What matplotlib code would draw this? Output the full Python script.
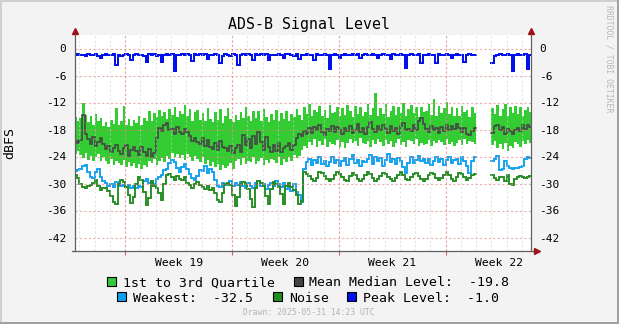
import numpy as np
import matplotlib
matplotlib.use("Agg")
import matplotlib.pyplot as plt
import matplotlib.dates as mdates
from matplotlib.patches import Rectangle
from matplotlib.lines import Line2D
from datetime import datetime, timedelta

plt.rcParams.update({
    "font.family": ["DejaVu Sans Mono", "DejaVu Sans"],
    "axes.unicode_minus": False,
})

nan = np.nan

# 4-hour samples, six per row (one row = one day), first sample 2025-05-01 16:00 UTC
t_start = datetime(2025, 5, 1, 16, 0)
step = timedelta(hours=4)

q3_rows = [
    [-15.2, -16.0, -15.4, -12.2, -14.8, -16.3],
    [-15.0, -17.0, -14.6, -16.2, -15.5, -17.2],
    [-16.4, -17.4, -15.9, -16.8, -13.2, -17.0],
    [-16.0, -12.8, -16.9, -15.6, -17.3, -15.8],
    [-16.6, -14.9, -17.0, -15.4, -16.2, -13.9],
    [-16.0, -14.4, -15.3, -13.6, -15.0, -14.2],
    [-15.6, -13.4, -14.7, -12.9, -15.2, -13.8],
    [-14.5, -12.6, -15.0, -13.5, -16.0, -14.2],
    [-13.6, -15.8, -14.4, -16.2, -13.2, -15.6],
    [-16.4, -14.0, -15.9, -13.4, -16.6, -15.0],
    [-13.3, -15.6, -16.3, -14.8, -16.0, -14.2],
    [-15.5, -13.1, -14.9, -16.1, -13.8, -15.4],
    [-14.0, -16.2, -13.5, -15.3, -16.4, -14.6],
    [-15.8, -13.6, -16.1, -14.3, -15.6, -13.9],
    [-16.0, -14.5, -15.2, -13.4, -14.8, -15.9],
    [-13.0, -14.6, -12.4, -15.1, -13.7, -14.2],
    [-12.8, -14.9, -13.6, -15.4, -12.5, -14.4],
    [-14.2, -12.9, -15.0, -13.3, -14.7, -12.6],
    [-13.8, -15.2, -12.7, -14.5, -13.1, -15.0],
    [-14.1, -12.3, -14.8, -13.2, -10.0, -14.9],
    [-13.2, -14.6, -12.4, -15.3, -13.9, -12.8],
    [-14.7, -13.0, -14.4, -12.2, -15.0, -13.5],
    [-12.6, -14.3, -13.1, -15.2, -12.9, -14.1],
    [-13.9, -12.4, -14.8, -11.3, -15.1, -12.7],
    [-14.4, -13.2, -11.8, -14.6, -13.0, -14.9],
    [-13.3, -15.0, -12.8, -14.2, -13.6, -15.2],
    [-12.9, -14.4, nan, nan, nan, nan],
    [nan, nan, -13.2, -14.6, -12.5, -15.0],
    [-13.4, -12.4, -14.9, -13.1, -14.3, -12.8],
    [-14.5, -13.0, -15.1, -13.6, -12.9, -14.2],
]

q1_rows = [
    [-23.4, -22.8, -23.6, -24.4, -23.2, -24.8],
    [-23.8, -25.0, -24.2, -23.5, -25.1, -24.0],
    [-24.9, -25.6, -24.6, -25.9, -25.0, -25.4],
    [-25.8, -24.8, -26.4, -25.2, -26.0, -25.5],
    [-26.6, -25.7, -26.8, -25.9, -26.3, -25.1],
    [-25.4, -24.6, -25.8, -24.9, -24.3, -25.2],
    [-23.8, -24.6, -23.2, -24.1, -23.5, -24.4],
    [-23.6, -24.8, -23.4, -24.2, -25.0, -23.9],
    [-24.6, -25.3, -24.2, -25.6, -24.8, -26.1],
    [-25.2, -26.4, -25.6, -26.9, -25.8, -26.5],
    [-26.2, -25.4, -26.8, -25.0, -24.6, -25.8],
    [-24.4, -25.6, -24.9, -25.3, -24.2, -25.7],
    [-25.1, -24.4, -25.9, -24.7, -25.5, -24.6],
    [-24.8, -25.4, -24.2, -25.8, -24.5, -25.2],
    [-24.0, -24.9, -23.6, -24.4, -23.8, -22.6],
    [-21.6, -22.2, -20.8, -21.4, -20.2, -21.8],
    [-20.6, -21.5, -20.0, -21.9, -20.8, -21.2],
    [-21.4, -20.3, -21.8, -20.7, -22.1, -20.9],
    [-20.2, -21.1, -20.6, -21.6, -19.9, -21.0],
    [-21.3, -20.5, -21.9, -20.4, -21.2, -20.0],
    [-20.8, -21.7, -20.3, -21.2, -20.6, -21.9],
    [-21.0, -20.2, -21.5, -20.7, -21.8, -20.4],
    [-20.5, -21.3, -20.1, -21.6, -20.9, -21.4],
    [-21.2, -20.4, -21.7, -20.6, -21.0, -20.3],
    [-20.7, -21.5, -20.2, -21.3, -20.8, -21.6],
    [-21.1, -20.4, -21.4, -20.0, -21.2, -20.6],
    [-20.8, -21.3, nan, nan, nan, nan],
    [nan, nan, -21.4, -20.6, -22.0, -21.2],
    [-22.4, -21.0, -22.8, -21.6, -22.1, -20.8],
    [-21.3, -21.9, -20.5, -21.2, -20.4, -20.9],
]

median_rows = [
    [-20.6, -20.9, -20.3, -14.8, -18.9, -20.1],
    [-21.2, -19.6, -21.7, -20.8, -19.9, -21.3],
    [-22.4, -21.6, -23.1, -22.0, -21.4, -22.8],
    [-23.5, -22.2, -21.5, -23.8, -22.6, -21.9],
    [-22.8, -23.6, -21.8, -22.9, -23.9, -22.4],
    [-24.0, -23.2, -19.8, -17.6, -18.4, -17.0],
    [-16.6, -18.2, -17.8, -19.0, -17.5, -18.6],
    [-19.1, -17.8, -18.5, -19.4, -20.6, -19.8],
    [-20.8, -21.3, -19.9, -21.6, -20.4, -21.8],
    [-22.3, -21.0, -22.5, -20.6, -21.9, -22.2],
    [-22.8, -21.7, -23.2, -22.1, -21.5, -22.9],
    [-19.2, -21.4, -20.0, -22.2, -19.5, -21.3],
    [-18.6, -20.8, -22.6, -19.6, -21.8, -22.9],
    [-21.5, -22.8, -21.0, -23.1, -22.2, -21.6],
    [-20.9, -22.6, -21.4, -19.8, -18.9, -19.4],
    [-18.3, -19.0, -17.6, -18.8, -17.4, -18.2],
    [-17.0, -18.5, -19.2, -17.8, -18.3, -17.2],
    [-18.6, -17.4, -18.1, -19.0, -17.6, -18.4],
    [-17.2, -18.8, -18.0, -16.8, -18.5, -17.7],
    [-18.9, -17.5, -16.4, -17.9, -18.6, -17.3],
    [-18.1, -16.9, -17.8, -18.7, -17.2, -18.3],
    [-17.6, -18.9, -17.3, -16.6, -18.2, -17.9],
    [-18.4, -17.1, -18.0, -16.0, -15.4, -16.8],
    [-17.9, -18.6, -17.3, -18.2, -17.6, -18.8],
    [-17.4, -18.3, -16.9, -18.0, -17.2, -17.9],
    [-16.8, -17.7, -18.5, -17.6, -18.9, -19.3],
    [-18.4, -17.6, nan, nan, nan, nan],
    [nan, nan, -18.8, -17.2, -16.9, -18.2],
    [-17.5, -18.9, -17.8, -18.4, -19.0, -18.2],
    [-17.6, -18.3, -17.1, -17.8, -16.9, -17.5],
]

weakest_rows = [
    [-27.2, -27.0, -26.8, -26.0, -25.8, -27.5],
    [-28.5, -28.8, -27.5, -26.8, -28.6, -29.5],
    [-29.8, -30.5, -30.2, -30.8, -29.6, -30.3],
    [-30.6, -30.4, -30.8, -30.4, -31.0, -30.6],
    [-31.0, -30.5, -30.8, -29.5, -29.0, -29.8],
    [-29.4, -30.2, -29.0, -28.6, -28.0, -27.0],
    [-26.8, -25.5, -24.8, -25.2, -26.5, -27.4],
    [-26.4, -25.6, -26.8, -27.8, -28.8, -29.2],
    [-28.4, -27.0, -27.2, -26.2, -27.6, -26.8],
    [-27.5, -29.3, -30.5, -30.8, -29.8, -30.4],
    [-30.2, -29.5, -30.6, -29.8, -30.4, -29.6],
    [-30.5, -31.0, -29.8, -30.6, -31.1, -29.9],
    [-29.5, -30.6, -30.2, -31.3, -30.4, -29.8],
    [-30.6, -29.4, -30.2, -30.8, -29.8, -31.2],
    [-30.4, -31.6, -30.0, -31.8, -32.6, -34.0],
    [-26.8, -25.2, -24.6, -25.8, -24.8, -25.5],
    [-24.2, -25.6, -24.9, -26.0, -25.2, -24.0],
    [-25.4, -24.7, -26.2, -25.0, -24.4, -25.8],
    [-24.6, -23.6, -25.5, -24.8, -26.1, -24.9],
    [-25.3, -24.5, -23.7, -25.6, -24.2, -25.0],
    [-24.4, -26.0, -24.8, -23.4, -25.2, -24.6],
    [-25.6, -24.3, -25.0, -26.4, -27.6, -25.4],
    [-24.2, -25.5, -24.8, -23.9, -25.1, -24.6],
    [-25.4, -24.5, -25.8, -24.9, -24.0, -25.2],
    [-24.6, -25.9, -24.8, -24.2, -25.5, -24.7],
    [-24.5, -25.6, -24.2, -25.0, -26.2, -27.6],
    [-25.0, -24.0, nan, nan, nan, nan],
    [nan, nan, -25.1, -24.6, -23.8, -27.0],
    [-26.8, -25.0, -26.2, -26.6, -26.7, -26.5],
    [-26.6, -26.4, -26.2, -24.6, -24.0, -24.3],
]

noise_rows = [
    [-28.2, -28.8, -30.2, -30.8, -31.0, -30.6],
    [-30.4, -29.8, -29.2, -30.6, -31.4, -31.0],
    [-31.0, -31.6, -32.8, -34.0, -34.6, -30.2],
    [-29.3, -29.6, -30.8, -32.5, -34.3, -33.0],
    [-30.0, -28.6, -29.2, -31.8, -34.8, -33.2],
    [-29.4, -30.6, -31.0, -32.2, -33.7, -30.0],
    [-28.0, -27.8, -28.6, -29.2, -28.4, -29.0],
    [-29.2, -28.6, -29.8, -30.4, -30.9, -30.2],
    [-29.6, -30.4, -30.8, -31.2, -30.6, -31.4],
    [-31.0, -32.2, -33.6, -34.1, -32.0, -30.2],
    [-29.8, -30.4, -32.5, -34.9, -33.0, -30.2],
    [-29.6, -30.0, -31.2, -33.4, -35.3, -31.0],
    [-29.4, -29.8, -30.6, -32.8, -34.6, -31.2],
    [-29.6, -30.2, -30.8, -32.4, -34.5, -30.6],
    [-29.8, -30.8, -31.4, -32.6, -34.5, -33.9],
    [-27.4, -27.8, -28.4, -29.1, -29.4, -28.8],
    [-27.5, -27.7, -28.3, -29.0, -29.4, -29.0],
    [-28.2, -27.5, -27.9, -28.6, -29.2, -29.5],
    [-28.4, -27.6, -28.0, -29.0, -29.4, -28.9],
    [-28.0, -27.4, -27.8, -28.7, -29.5, -29.1],
    [-28.3, -27.6, -27.9, -28.5, -29.0, -29.4],
    [-28.8, -28.1, -27.5, -28.2, -29.0, -29.3],
    [-28.6, -27.9, -27.6, -28.4, -29.1, -29.4],
    [-28.9, -28.2, -27.7, -27.9, -28.8, -29.3],
    [-28.7, -28.0, -27.5, -28.1, -28.9, -29.4],
    [-28.5, -27.6, -27.9, -28.6, -29.2, -28.7],
    [-28.0, -27.9, nan, nan, nan, nan],
    [nan, nan, -28.2, -28.8, -29.2, -28.6],
    [-28.5, -29.5, -28.2, -30.2, -30.4, -29.0],
    [-28.6, -28.4, -28.5, -28.7, -28.5, -28.4],
]

peak_rows = [
    [-1.4, -1.3, -1.5, -1.4, -1.6, -1.3],
    [-1.5, -1.4, -1.3, -1.6, -2.1, -1.4],
    [-1.3, -1.5, -1.4, -1.3, -3.7, -1.5],
    [-1.6, -1.4, -1.3, -1.5, -2.6, -1.4],
    [-1.3, -1.5, -1.4, -1.6, -2.9, -1.3],
    [-1.4, -1.3, -1.6, -1.4, -2.9, -1.5],
    [-1.2, -1.4, -1.3, -5.0, -1.5, -1.4],
    [-1.3, -1.5, -1.2, -1.4, -2.8, -1.3],
    [-1.4, -1.2, -1.5, -1.3, -2.4, -1.4],
    [-1.5, -1.3, -1.4, -3.3, -1.6, -1.3],
    [-1.4, -1.6, -1.3, -1.5, -3.7, -1.4],
    [-1.3, -1.4, -1.2, -1.5, -2.6, -1.3],
    [-1.5, -1.3, -1.4, -1.3, -2.6, -1.4],
    [-1.4, -1.5, -1.3, -1.4, -2.2, -1.3],
    [-1.3, -1.4, -1.6, -1.3, -2.4, -1.5],
    [-1.4, -1.3, -1.5, -1.4, -2.6, -1.3],
    [-1.5, -1.4, -1.3, -1.5, -4.6, -1.4],
    [-1.3, -1.5, -2.2, -1.4, -1.3, -1.5],
    [-1.4, -1.2, -1.5, -1.3, -2.2, -1.4],
    [-1.3, -1.5, -1.4, -1.2, -1.4, -2.2],
    [-1.4, -1.3, -1.5, -1.4, -2.4, -1.3],
    [-1.5, -1.4, -1.3, -1.5, -4.4, -1.4],
    [-1.3, -1.5, -1.4, -1.3, -3.3, -1.5],
    [-1.4, -1.3, -1.5, -1.4, -3.3, -1.3],
    [-1.5, -1.4, -1.3, -1.4, -2.2, -1.5],
    [-1.3, -1.5, -1.4, -2.9, -1.4, -1.3],
    [-1.4, -1.5, nan, nan, nan, nan],
    [nan, nan, -3.3, -1.6, -1.4, -1.3],
    [-1.5, -1.4, -1.3, -1.5, -5.0, -1.4],
    [-1.3, -1.5, -1.4, -1.3, -4.6, -1.4],
]

week_labels = ["Week 19", "Week 20", "Week 21", "Week 22"]
week_starts = [datetime(2025, 5, 5), datetime(2025, 5, 12),
               datetime(2025, 5, 19), datetime(2025, 5, 26)]
y_ticks = [0, -6, -12, -18, -24, -30, -36, -42]

median_level = -19.8
weakest_level = -32.5
peak_level = -1.0
drawn_at = "2025-05-31 14:23 UTC"

q3 = np.array(q3_rows).ravel()
q1 = np.array(q1_rows).ravel()
median = np.array(median_rows).ravel()
weakest = np.array(weakest_rows).ravel()
noise = np.array(noise_rows).ravel()
peak = np.array(peak_rows).ravel()

n = len(q3)
t = mdates.date2num([t_start + i * step for i in range(n + 1)])
dt = t[1] - t[0]

c_band = "#33cc33"
c_median = "#444444"
c_weak = "#0ea0ee"
c_noise = "#228b22"
c_peak = "#0011ee"
c_grid = "#e47a7a"

W, H = 619, 324
fig = plt.figure(figsize=(W / 100, H / 100), dpi=100, facecolor="#f3f3f3")


def fx(x):
    return x / W


def fy(y):
    return 1 - y / H


# plot area in pixels: x 74.7..531, y 35..251
ax = fig.add_axes([fx(74.7), fy(251), fx(531 - 74.7), (251 - 35) / H])
ax.set_facecolor("white")

# 1st..3rd quartile band as step columns
ax.bar(t[:-1], q3 - q1, bottom=q1, width=dt, align="edge",
       color=c_band, linewidth=0, antialiased=False, zorder=2)


def step_line(v, color, lw, z):
    ax.plot(t, np.append(v, v[-1]), drawstyle="steps-post",
            color=color, lw=lw, zorder=z, solid_joinstyle="miter")


step_line(median, c_median, 1.15, 3)
step_line(weakest, c_weak, 1.35, 4)
step_line(noise, c_noise, 1.35, 5)
step_line(peak, c_peak, 1.45, 6)

x_left = mdates.date2num(datetime(2025, 5, 1, 16, 30))
x_right = mdates.date2num(datetime(2025, 5, 31, 14, 23))
ax.set_xlim(x_left, x_right)
ax.set_ylim(-45, 3)

# grid on top of the data, like rrdtool
day = mdates.date2num(datetime(2025, 5, 2))
while day < x_right:
    ax.axvline(day, color="#cfcfcf", lw=0.8, alpha=0.55,
               dashes=(2, 2), zorder=8)
    day += 1
for ws in week_starts:
    ax.axvline(mdates.date2num(ws), color=c_grid, lw=0.8, alpha=0.6,
               dashes=(2, 2), zorder=9)
for yv in y_ticks:
    ax.axhline(yv, color=c_grid, lw=0.8, alpha=0.6, dashes=(2, 2), zorder=9)

for sp in ax.spines.values():
    sp.set_visible(False)

ax.set_yticks(y_ticks)
ax.set_yticklabels([str(v) for v in y_ticks])
ax.tick_params(axis="y", length=0, labelsize=8, left=False, right=False,
               labelleft=True, labelright=True, pad=6)
ax.set_xticks(mdates.date2num(week_starts))
ax.set_xticklabels([])
ax.tick_params(axis="x", length=3, width=0.8, color="#d06060", direction="out")

# week names centred on each week
for ws, lab in zip(week_starts, week_labels):
    mid = mdates.date2num(ws + timedelta(days=3, hours=12))
    ax.text(mid, -(265.5 - 251) / 216, lab, transform=ax.get_xaxis_transform(),
            ha="center", va="baseline", fontsize=8.2, color="black")

# axis lines with arrow heads
ax_col = "#606060"
arrow_col = "#9b1515"
fig.add_artist(Line2D([fx(74.7), fx(74.7)], [fy(251), fy(31)], color=ax_col, lw=0.9))
fig.add_artist(Line2D([fx(531), fx(531)], [fy(251), fy(31)], color=ax_col, lw=0.9))
fig.add_artist(Line2D([fx(72), fx(536)], [fy(251), fy(251)], color=ax_col, lw=0.9))
fig.add_artist(Line2D([fx(74.7)], [fy(31)], marker="^", ms=4.5, color=arrow_col, lw=0))
fig.add_artist(Line2D([fx(531)], [fy(31)], marker="^", ms=4.5, color=arrow_col, lw=0))
fig.add_artist(Line2D([fx(537)], [fy(251)], marker=">", ms=4.5, color=arrow_col, lw=0))

fig.text(fx(309), fy(29.5), "ADS-B Signal Level", ha="center", va="baseline",
         fontsize=10.7)
fig.text(fx(10), fy(143), "dBFS", rotation=90, ha="center", va="center",
         fontsize=9.5)
fig.text(fx(609.5), fy(5), "RRDTOOL / TOBI OETIKER", rotation=270,
         ha="center", va="top", fontsize=5.9, color="#b8b8b8")
fig.text(fx(309), fy(315), "Drawn: " + drawn_at, ha="center", va="baseline",
         fontsize=5.9, color="#b4b4b4")

# legend
def legend_box(x, y, color):
    fig.add_artist(Rectangle((fx(x), fy(y + 9)), 9 / W, 9 / H, transform=fig.transFigure,
                             facecolor=color, edgecolor="black", lw=0.8))


def legend_text(x, y, s):
    fig.text(fx(x), fy(y), s, ha="left", va="baseline", fontsize=9.5)


legend_box(107.4, 276.7, c_band)
legend_text(123.0, 286.3, "1st to 3rd Quartile")
legend_box(293.7, 276.7, c_median)
legend_text(309.0, 286.3, "Mean Median Level:  %5.1f" % median_level)
legend_box(117.3, 291.7, c_weak)
legend_text(133.0, 301.5, "Weakest:  %5.1f" % weakest_level)
legend_box(273.2, 291.7, c_noise)
legend_text(289.0, 301.5, "Noise")
legend_box(347.4, 291.7, c_peak)
legend_text(363.0, 301.5, "Peak Level:  %4.1f" % peak_level)

# frame around the whole image
fig.add_artist(Rectangle((0, fy(2)), 1, 2 / H, transform=fig.transFigure,
                         facecolor="#d0d0d0", lw=0))
fig.add_artist(Rectangle((0, 0), 2 / W, 1, transform=fig.transFigure,
                         facecolor="#d0d0d0", lw=0))
fig.add_artist(Rectangle((fx(617), 0), 2 / W, 1, transform=fig.transFigure,
                         facecolor="#a0a0a0", lw=0))
fig.add_artist(Rectangle((0, 0), 1, 2.5 / H, transform=fig.transFigure,
                         facecolor="#a0a0a0", lw=0))

fig.savefig("out.png", dpi=100, facecolor=fig.get_facecolor())
